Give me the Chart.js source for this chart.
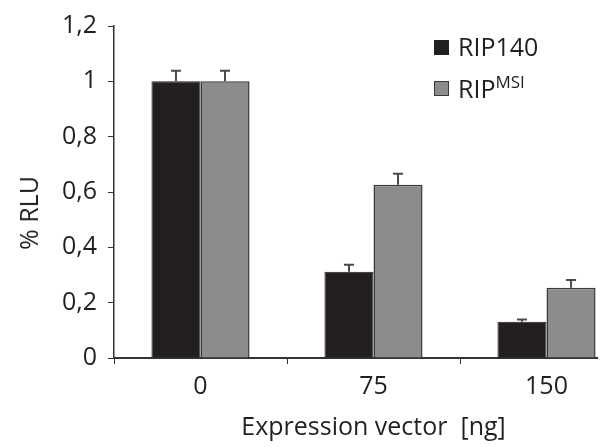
<!DOCTYPE html>
<html>
<head>
<meta charset="utf-8">
<script src="https://cdn.jsdelivr.net/npm/chart.js@4"></script>
<style>
  html, body { margin: 0; padding: 0; overflow: hidden; background: #fff; }
  #wrap { position: relative; width: 598px; height: 447px; overflow: hidden; }
  #wrap canvas { position: absolute; left: 0; top: 0; }
  .txt { position: absolute; font-family: "Open Sans", sans-serif; color: #231f20; font-size: 25px; white-space: nowrap; }
  .sw { position: absolute; width: 15px; height: 15px; box-sizing: border-box; }
  #ytitle { left: 28px; top: 213px; transform: translate(-50%, -50%) rotate(-90deg); }
  sup { font-size: 17px; vertical-align: 0; position: relative; top: -10px; }
</style>
</head>
<body>
<div id="wrap">
  <canvas id="chart" width="640" height="447"></canvas>
  <div class="txt" id="ytitle">% RLU</div>
  <div class="sw" style="left:434px; top:40px; background:#231f20;"></div>
  <div class="txt" style="left:458px; top:29px;">RIP140</div>
  <div class="sw" style="left:434px; top:81px; background:#8c8c8c; border:1.5px solid #3a3a3a;"></div>
  <div class="txt" style="left:458px; top:71px;">RIP<sup>MSI</sup></div>
</div>
<script>
// data
const categories = ["0", "75", "150"];
const rip140 = [1.0, 0.312, 0.131];
const rip140Err = [0.038, 0.025, 0.008];
const ripMsi = [1.0, 0.626, 0.254];
const ripMsiErr = [0.038, 0.04, 0.028];
const yTicks = [0, 0.2, 0.4, 0.6, 0.8, 1, 1.2];

const errors = [rip140Err, ripMsiErr];
const ink = "#231f20";

// upward-only error bars with a short cap
const errorBars = {
  id: "errorBars",
  afterDatasetsDraw(chart) {
    const ctx = chart.ctx;
    const y = chart.scales.y;
    ctx.save();
    ctx.strokeStyle = "#4a4a4a";
    ctx.lineWidth = 2;
    chart.data.datasets.forEach((ds, i) => {
      chart.getDatasetMeta(i).data.forEach((bar, j) => {
        const top = y.getPixelForValue(ds.data[j] + errors[i][j]);
        ctx.beginPath();
        ctx.moveTo(bar.x, bar.y);
        ctx.lineTo(bar.x, top);
        ctx.moveTo(bar.x - 5, top);
        ctx.lineTo(bar.x + 5, top);
        ctx.stroke();
      });
    });
    ctx.restore();
  }
};

const tickFont = { family: "Open Sans", size: 25 };

new Chart(document.getElementById("chart"), {
  type: "bar",
  data: {
    labels: categories,
    datasets: [
      { label: "RIP140", data: rip140, backgroundColor: ink, borderColor: ink, borderWidth: 1 },
      { label: "RIPMSI", data: ripMsi, backgroundColor: "#8c8c8c", borderColor: "#3a3a3a", borderWidth: 1.5 }
    ]
  },
  options: {
    responsive: false,
    animation: false,
    layout: { padding: { top: 25, right: 7, left: 0, bottom: 0 } },
    plugins: { legend: { display: false }, tooltip: { enabled: false } },
    datasets: { bar: { barPercentage: 1, categoryPercentage: 0.567 } },
    scales: {
      x: {
        offset: true,
        grid: { offset: true, drawOnChartArea: false, drawTicks: true, tickLength: 6, color: "#333", lineWidth: 1 },
        border: { color: "#333", width: 2 },
        ticks: { color: ink, font: tickFont, padding: 8 },
        title: { display: true, text: "Expression vector  [ng]", color: ink, font: tickFont, padding: { top: 6 } },
        afterFit: s => { s.height = 89; }
      },
      y: {
        min: 0,
        max: 1.2,
        afterBuildTicks: s => { s.ticks = yTicks.map(v => ({ value: v })); },
        grid: { drawOnChartArea: false, drawTicks: true, tickLength: 6, color: "#333", lineWidth: 1 },
        border: { color: "#333", width: 1.5 },
        ticks: {
          color: ink,
          font: tickFont,
          padding: 11,
          callback: v => String(Math.round(v * 10) / 10).replace(".", ",")
        },
        afterFit: s => { s.width = 114; }
      }
    }
  },
  plugins: [errorBars]
});
</script>
</body>
</html>
